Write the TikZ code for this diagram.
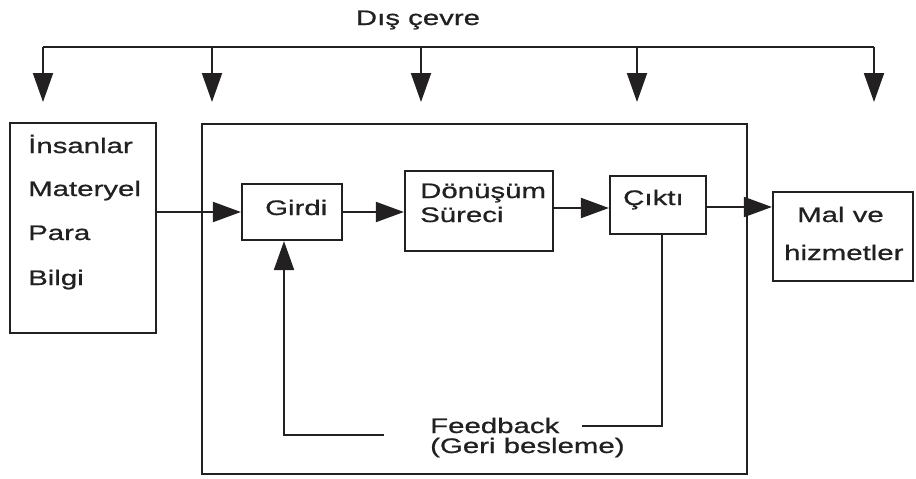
\documentclass[tikz,border=0pt]{standalone}
\usepackage{fontspec}
\setmainfont{Liberation Sans}[FakeStretch=1.4,FakeBold=0.8]
\usetikzlibrary{arrows.meta}
\definecolor{ink}{RGB}{34,32,32}
\begin{document}
\begin{tikzpicture}[x=1pt,y=-1pt,
  box/.style={draw=ink, line width=2.2pt, inner sep=0pt},
  txt/.style={anchor=base west, inner sep=0pt, text=ink, font=\fontsize{21}{21}\selectfont},
  conn/.style={draw=ink, line width=2pt},
  harrow/.style={conn, -{Triangle[length=28pt,width=20pt]}},
  varrow/.style={conn, -{Triangle[length=29pt,width=20pt]}},
]
\useasboundingbox[fill=white] (0,0) rectangle (916,479);

% title and environment arrows
\node[txt, anchor=base] (title) at (418,25) {Dış çevre};
\coordinate (d1) at (43,47);
\coordinate (d2) at (212,47);
\coordinate (d3) at (421,47);
\coordinate (d4) at (637,47);
\coordinate (d5) at (874,47);
\coordinate (t1) at (43,102);
\coordinate (t2) at (212,102);
\coordinate (t3) at (421,102);
\coordinate (t4) at (637,102);
\coordinate (t5) at (874,102);
\draw[conn] (d1) -- (d5);
\foreach \i in {1,...,5} \draw[varrow] (d\i) -- (t\i);

% boxes
\node[box, minimum width=146pt, minimum height=210pt] (res) at (83,228) {};
\node[box, minimum width=545pt, minimum height=350pt] (sys) at (474.5,299) {};
\node[box, minimum width=100pt, minimum height=56pt] (girdi) at (292,212) {};
\node[box, minimum width=148pt, minimum height=80pt] (don) at (479,211) {};
\node[box, minimum width=96pt, minimum height=58pt] (cikti) at (658,205) {};
\node[box, minimum width=140pt, minimum height=89pt] (mal) at (843,236.5) {};

% texts
\node[txt] (r1) at (28,153) {İnsanlar};
\node[txt] (r2) at (28,196) {Materyel};
\node[txt] (r3) at (28,240) {Para};
\node[txt] (r4) at (28,285) {Bilgi};
\node[txt] (g) at (265,215) {Girdi};
\node[txt] (dn1) at (420,198) {Dönüşüm};
\node[txt] (dn2) at (420,222) {Süreci};
\node[txt] (c) at (623,205) {Çıktı};
\node[txt] (m1) at (797,222) {Mal ve};
\node[txt] (m2) at (784,260) {hizmetler};
\node[txt] (fb1) at (430,433) {Feedback};
\node[txt] (fb2) at (430,453) {(Geri besleme)};

% flow arrows
\draw[harrow] (res.east |- girdi.west) -- (girdi.west);
\draw[harrow] (girdi.east) -- (girdi.east -| don.west);
\draw[harrow] (don.east |- 0,208) -- (cikti.west |- 0,208);
\draw[harrow] (cikti.east |- 0,207) -- (mal.west |- 0,207);

% feedback loop
\coordinate (fr) at (662,426);
\coordinate (fre) at (582,426);
\coordinate (fl) at (284,435);
\coordinate (fle) at (384,435);
\draw[conn] (cikti.south -| fr) -- (fr) -- (fre);
\draw[varrow] (fle) -- (fl) -- (girdi.south -| fl);
\end{tikzpicture}
\end{document}
